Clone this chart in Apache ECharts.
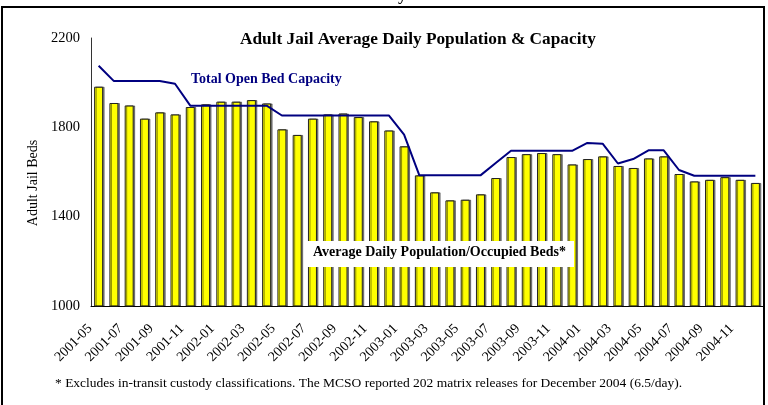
<!DOCTYPE html>
<html>
<head>
<meta charset="utf-8">
<script src="https://cdn.jsdelivr.net/npm/echarts@6/dist/echarts.min.js"></script>
<style>
  html, body { margin: 0; padding: 0; background: #fff; }
  #chart { width: 768px; height: 405px; }
</style>
</head>
<body>
<div id="chart"></div>
<script>
// months shown on the x axis
var months = [
  '2001-05', '2001-06', '2001-07', '2001-08', '2001-09', '2001-10', '2001-11', '2001-12',
  '2002-01', '2002-02', '2002-03', '2002-04', '2002-05', '2002-06', '2002-07', '2002-08',
  '2002-09', '2002-10', '2002-11', '2002-12', '2003-01', '2003-02', '2003-03', '2003-04',
  '2003-05', '2003-06', '2003-07', '2003-08', '2003-09', '2003-10', '2003-11', '2003-12',
  '2004-01', '2004-02', '2004-03', '2004-04', '2004-05', '2004-06', '2004-07', '2004-08',
  '2004-09', '2004-10', '2004-11', '2004-12'
];

// average daily population (bars)
var population = [
  1982, 1909, 1898, 1839, 1867, 1858, 1891, 1903,
  1915, 1915, 1922, 1907, 1791, 1766, 1839, 1858,
  1862, 1846, 1827, 1786, 1715, 1585, 1509, 1473,
  1476, 1500, 1573, 1667, 1680, 1685, 1680, 1634,
  1658, 1670, 1627, 1618, 1661, 1670, 1591, 1558,
  1565, 1577, 1565, 1551
];

// total open bed capacity (line)
var capacity = [
  2076, 2007, 2007, 2007, 2007, 1995, 1897, 1897,
  1897, 1897, 1897, 1897, 1853, 1853, 1853, 1853,
  1853, 1853, 1853, 1853, 1767, 1585, 1585, 1585,
  1585, 1585, 1640, 1695, 1695, 1695, 1695, 1695,
  1730, 1727, 1638, 1658, 1697, 1697, 1609, 1583,
  1583, 1583, 1583, 1583
];

var serif = '"Liberation Serif", "DejaVu Serif", serif';

var myChart = echarts.init(document.getElementById('chart'));
var option = {
  animation: false,
  backgroundColor: '#fff',
  title: {
    text: 'Adult Jail Average Daily Population & Capacity',
    left: 235,
    top: 26,
    textStyle: { fontFamily: serif, fontSize: 17.3, fontWeight: 'bold', color: '#000' }
  },
  grid: { left: 91, right: 5, top: 38, bottom: 99 },
  xAxis: {
    type: 'category',
    data: months,
    axisLine: { lineStyle: { color: '#000', width: 1 } },
    axisTick: { show: false },
    axisLabel: {
      interval: 1,
      rotate: 45,
      margin: 12,
      padding: [0, 12, 0, 0],
      fontFamily: serif,
      fontSize: 14,
      color: '#000'
    }
  },
  yAxis: {
    type: 'value',
    min: 1000,
    max: 2200,
    interval: 400,
    splitLine: { show: false },
    axisTick: { show: false },
    axisLine: { show: true, lineStyle: { color: '#333', width: 1 } },
    axisLabel: {
      fontFamily: serif,
      fontSize: 14.5,
      color: '#000',
      margin: 11,
      formatter: function (v) { return String(v); }
    }
  },
  series: [
    {
      name: 'Average Daily Population',
      type: 'bar',
      data: population,
      barWidth: 9,
      itemStyle: {
        color: '#FFFF00',
        borderColor: '#222',
        borderWidth: 1,
        shadowColor: 'rgba(0,0,0,0.45)',
        shadowOffsetX: 1.5,
        shadowOffsetY: 0,
        shadowBlur: 0
      }
    },
    {
      name: 'Total Open Bed Capacity',
      type: 'line',
      data: capacity,
      showSymbol: false,
      symbol: 'none',
      lineStyle: { color: '#000080', width: 2 },
      z: 5
    }
  ],
  graphic: [
    {
      type: 'rect',
      shape: { x: 2, y: 7, width: 762, height: 420 },
      style: { fill: 'none', stroke: '#000', lineWidth: 2 },
      z: 10
    },
    {
      type: 'text',
      left: 398, top: -13,
      style: { text: 'y', font: 'bold 17px ' + serif, fill: '#000' }
    },
    {
      type: 'text',
      x: 33, y: 183,
      rotation: Math.PI / 2,
      style: {
        text: 'Adult Jail Beds',
        font: '14px ' + serif,
        fill: '#000',
        align: 'center',
        verticalAlign: 'middle'
      }
    },
    {
      type: 'text',
      left: 191, top: 72,
      style: { text: 'Total Open Bed Capacity', font: 'bold 14px ' + serif, fill: '#000080' },
      z: 10
    },
    {
      type: 'rect',
      shape: { x: 307, y: 241, width: 267, height: 26 },
      style: { fill: '#fff' },
      z: 10
    },
    {
      type: 'text',
      left: 313, top: 245,
      style: { text: 'Average Daily Population/Occupied Beds*', font: 'bold 14px ' + serif, fill: '#000' },
      z: 11
    },
    {
      type: 'text',
      left: 55, top: 376,
      style: {
        text: '* Excludes in-transit custody classifications. The MCSO reported 202 matrix releases for December 2004 (6.5/day).',
        font: '13.5px ' + serif,
        fill: '#000'
      },
      z: 10
    }
  ]
};
option && myChart.setOption(option);
</script>
</body>
</html>
